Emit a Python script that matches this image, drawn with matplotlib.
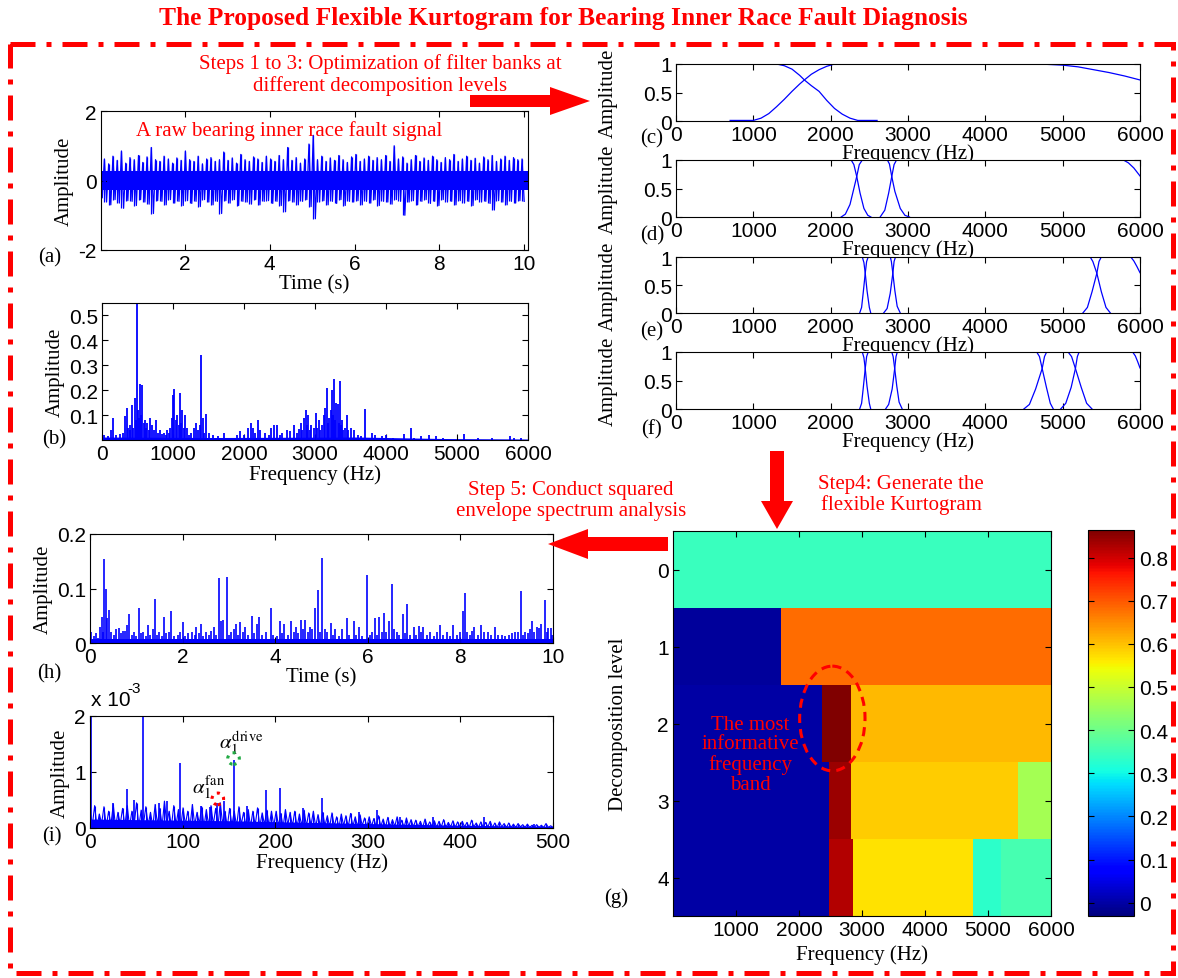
import numpy as np
import matplotlib
matplotlib.use("Agg")
import matplotlib.pyplot as plt
from matplotlib.patches import FancyArrow, Ellipse, Rectangle
from matplotlib.ticker import FuncFormatter

SERIF = "Liberation Serif"
SANS = "Liberation Sans"
RED = "#ff0000"
BLUE = "#0000ff"

plt.rcParams["font.family"] = [SANS, "DejaVu Sans"]
plt.rcParams["mathtext.fontset"] = "stix"
plt.rcParams["axes.unicode_minus"] = False

# ---------------- data ----------------
# (a) raw signal: upper / lower swing in each 0.1 s slot, plus the solid core band
sig_a_top = [0.55, 0.62, 0.48, 0.70, 0.58, 0.85, 0.50, 0.66, 0.60, 0.72,
             0.52, 0.68, 0.95, 0.60, 0.55, 0.70, 0.62, 0.50, 0.65, 0.58,
             0.85, 0.60, 0.55, 0.70, 0.48, 0.62, 0.66, 0.55, 0.60, 0.82,
             0.58, 0.65, 0.50, 0.75, 0.60, 0.55, 0.68, 0.62, 0.52, 0.70,
             0.62, 0.55, 0.72, 0.60, 0.95, 0.58, 0.66, 0.50, 0.62, 1.05,
             1.30, 0.60, 0.70, 0.55, 0.65, 0.58, 0.72, 0.60, 0.52, 0.68,
             0.75, 0.55, 0.62, 0.70, 0.58, 0.66, 0.60, 0.72, 0.55, 1.00,
             0.62, 0.68, 0.50, 0.60, 0.72, 0.55, 0.65, 0.58, 0.70, 0.60,
             0.52, 0.66, 0.60, 0.75, 0.55, 0.62, 0.70, 0.58, 0.64, 0.50,
             0.68, 0.60, 0.72, 0.55, 0.62, 0.70, 0.58, 0.66, 0.60, 0.62]
sig_a_bot = [-0.50, -0.62, -0.70, -0.55, -0.65, -0.80, -0.58, -0.60, -0.72, -0.55,
             -0.62, -0.68, -0.95, -0.58, -0.60, -0.70, -0.55, -0.65, -0.60, -0.72,
             -0.58, -0.66, -0.60, -0.75, -0.55, -0.62, -0.70, -0.60, -0.95, -0.58,
             -0.65, -0.55, -0.72, -0.60, -0.62, -0.68, -0.55, -0.70, -0.60, -0.58,
             -0.66, -0.60, -0.72, -0.90, -0.58, -0.62, -0.70, -0.60, -0.55, -0.75,
             -1.10, -0.62, -0.58, -0.70, -0.60, -0.66, -0.55, -0.72, -0.60, -0.62,
             -0.58, -0.70, -0.60, -0.65, -0.55, -0.72, -0.60, -0.62, -0.68, -0.55,
             -0.60, -1.00, -0.62, -0.58, -0.70, -0.60, -0.55, -0.66, -0.60, -0.72,
             -0.55, -0.62, -0.60, -0.70, -0.58, -0.65, -0.60, -0.72, -0.55, -0.62,
             -0.60, -0.66, -0.85, -0.58, -0.62, -0.70, -0.60, -0.65, -0.58, -0.60]
sig_a_core_t = [0, 10.1]
sig_a_core_hi = [0.28, 0.28]
sig_a_core_lo = [-0.26, -0.26]

# (b) spectrum peaks (Hz, amplitude) and noise floor
spec_b = [(30, 0.02), (80, 0.015), (120, 0.04), (150, 0.09), (200, 0.02), (250, 0.025),
          (300, 0.03), (330, 0.095), (350, 0.13), (370, 0.05), (390, 0.04), (400, 0.06),
          (420, 0.14), (440, 0.05), (460, 0.17), (475, 0.08), (490, 0.55), (510, 0.12),
          (525, 0.09), (540, 0.225), (555, 0.1), (570, 0.22), (585, 0.07), (600, 0.08),
          (620, 0.05), (640, 0.07), (660, 0.04), (680, 0.09), (700, 0.06), (730, 0.04),
          (760, 0.08), (790, 0.03), (820, 0.04), (850, 0.025), (870, 0.03), (900, 0.02),
          (920, 0.04), (940, 0.03), (960, 0.05), (980, 0.09), (1000, 0.18), (1020, 0.205),
          (1040, 0.08), (1060, 0.1), (1080, 0.06), (1100, 0.19), (1115, 0.07), (1130, 0.12),
          (1150, 0.05), (1170, 0.1), (1200, 0.05), (1230, 0.02), (1260, 0.03), (1300, 0.05),
          (1330, 0.07), (1350, 0.04), (1380, 0.06), (1400, 0.34), (1420, 0.09), (1440, 0.03),
          (1460, 0.105), (1500, 0.03), (1560, 0.02), (1630, 0.015), (1720, 0.03), (1800, 0.01),
          (1900, 0.02), (1950, 0.035), (2000, 0.02), (2050, 0.05), (2100, 0.07), (2130, 0.05),
          (2160, 0.03), (2200, 0.08), (2230, 0.04), (2300, 0.03), (2350, 0.02), (2380, 0.05),
          (2420, 0.06), (2460, 0.06), (2500, 0.02), (2530, 0.03), (2600, 0.04), (2650, 0.035),
          (2700, 0.06), (2740, 0.03), (2780, 0.045), (2800, 0.07), (2820, 0.04), (2840, 0.09),
          (2870, 0.12), (2885, 0.06), (2900, 0.1), (2930, 0.04), (2950, 0.06), (2980, 0.05),
          (3010, 0.11), (3030, 0.05), (3050, 0.08), (3075, 0.04), (3100, 0.06), (3120, 0.1),
          (3140, 0.13), (3170, 0.21), (3185, 0.07), (3200, 0.09), (3220, 0.12), (3240, 0.2),
          (3255, 0.1), (3270, 0.245), (3285, 0.08), (3300, 0.15), (3320, 0.145), (3335, 0.07),
          (3350, 0.235), (3365, 0.06), (3380, 0.08), (3400, 0.04), (3420, 0.05), (3450, 0.1),
          (3470, 0.04), (3500, 0.05), (3550, 0.04), (3600, 0.02), (3650, 0.015), (3700, 0.125),
          (3750, 0.01), (3800, 0.03), (3850, 0.02), (3950, 0.015), (4000, 0.02), (4100, 0.01),
          (4250, 0.025), (4350, 0.05), (4400, 0.01), (4500, 0.015), (4600, 0.02), (4700, 0.015),
          (4800, 0.01), (5100, 0.025), (5300, 0.008), (5500, 0.008), (5750, 0.015), (5800, 0.008),
          (5900, 0.01)]
spec_b_floor_f = [0, 1600, 3600, 4800, 6000]
spec_b_floor_a = [0.012, 0.01, 0.012, 0.006, 0.004]

# (c)-(f) optimised filter banks: (frequency list, gain list) per filter
bank_c = [([0, 1300, 1400, 1500, 1600, 1660, 1750, 1850, 1950, 2050, 2150, 2250, 2350, 2600],
           [1, 1, 0.97, 0.91, 0.8, 0.72, 0.62, 0.52, 0.36, 0.22, 0.12, 0.05, 0.01, 0.01]),
          ([700, 1000, 1100, 1200, 1300, 1400, 1500, 1600, 1660, 1750, 1850, 1950, 2050,
            4700, 5000, 5200, 5400, 5600, 5800, 6000],
           [0.01, 0.01, 0.05, 0.13, 0.25, 0.38, 0.52, 0.65, 0.72, 0.82, 0.9, 0.96, 1,
            1, 0.98, 0.95, 0.9, 0.85, 0.79, 0.72])]
bank_d = [([0, 2265, 2300, 2337, 2380, 2430, 2480, 2520],
           [1, 1, 0.92, 0.71, 0.42, 0.15, 0.03, 0]),
          ([2136, 2190, 2250, 2300, 2337, 2370, 2409, 2733, 2760, 2790, 2830, 2900, 2960, 3019],
           [0, 0.05, 0.22, 0.5, 0.71, 0.92, 1, 1, 0.93, 0.71, 0.45, 0.15, 0.03, 0]),
          ([2640, 2700, 2750, 2790, 2820, 2852, 5785, 5850, 5920, 6000],
           [0, 0.12, 0.42, 0.71, 0.92, 1, 1, 0.95, 0.86, 0.72])]
bank_e = [([0, 2409, 2430, 2447, 2470, 2500, 2518],
           [1, 1, 0.9, 0.71, 0.4, 0.1, 0]),
          ([2375, 2400, 2420, 2447, 2465, 2485, 2771, 2785, 2804, 2830, 2860, 2900],
           [0, 0.1, 0.35, 0.71, 0.92, 1, 1, 0.92, 0.71, 0.4, 0.12, 0]),
          ([2685, 2730, 2770, 2804, 2820, 2838, 5356, 5390, 5442, 5500, 5560, 5617],
           [0, 0.08, 0.35, 0.71, 0.92, 1, 1, 0.92, 0.71, 0.38, 0.1, 0]),
          ([5261, 5320, 5380, 5442, 5470, 5499, 5881, 5920, 5960, 6000],
           [0, 0.1, 0.38, 0.71, 0.92, 1, 1, 0.93, 0.83, 0.72])]
bank_f = [([0, 2409, 2430, 2447, 2470, 2500, 2518],
           [1, 1, 0.9, 0.71, 0.4, 0.1, 0]),
          ([2375, 2400, 2420, 2447, 2465, 2485, 2790, 2808, 2828, 2855, 2885, 2925],
           [0, 0.1, 0.35, 0.71, 0.92, 1, 1, 0.92, 0.71, 0.4, 0.12, 0]),
          ([2710, 2750, 2795, 2828, 2845, 2862, 4664, 4700, 4735, 4790, 4840, 4879],
           [0, 0.08, 0.35, 0.71, 0.92, 1, 1, 0.92, 0.71, 0.38, 0.1, 0]),
          ([4498, 4570, 4650, 4735, 4765, 4793, 5070, 5115, 5165, 5240, 5310, 5380],
           [0, 0.08, 0.35, 0.71, 0.92, 1, 1, 0.92, 0.71, 0.38, 0.1, 0]),
          ([4974, 5040, 5110, 5165, 5190, 5213, 5905, 5940, 5970, 6000],
           [0, 0.1, 0.38, 0.71, 0.92, 1, 1, 0.93, 0.83, 0.72])]

# (g) flexible kurtogram: band edges (Hz) and kurtosis value per level
kurt_levels = [0, 1, 2, 3, 4]
kurt_edges = [[0, 6000],
              [0, 1707, 6000],
              [0, 2360, 2826, 6000],
              [0, 2477, 2826, 5478, 6000],
              [0, 2477, 2855, 4767, 5204, 6000]]
kurt_vals = [[0.345],
             [-0.01, 0.68],
             [0.0, 0.864, 0.607],
             [0.0, 0.84, 0.59, 0.46],
             [0.0, 0.824, 0.57, 0.33, 0.36]]
kurt_clim = (-0.031, 0.864)
cbar_ticks = [0, 0.1, 0.2, 0.3, 0.4, 0.5, 0.6, 0.7, 0.8]

# (h) squared envelope (s, amplitude)
env_h = [(0.03, 0.02), (0.08, 0.012), (0.13, 0.018), (0.18, 0.01), (0.22, 0.03), (0.25, 0.048),
         (0.28, 0.02), (0.31, 0.155), (0.34, 0.1), (0.37, 0.045), (0.41, 0.06), (0.46, 0.02),
         (0.52, 0.015), (0.57, 0.025), (0.62, 0.027), (0.67, 0.018), (0.71, 0.022), (0.75, 0.022),
         (0.79, 0.033), (0.85, 0.053), (0.9, 0.015), (0.95, 0.02), (1.0, 0.012), (1.05, 0.064),
         (1.1, 0.018), (1.15, 0.02), (1.2, 0.012), (1.25, 0.033), (1.3, 0.015), (1.35, 0.025),
         (1.4, 0.08), (1.45, 0.015), (1.5, 0.02), (1.55, 0.012), (1.6, 0.047), (1.65, 0.018),
         (1.7, 0.02), (1.75, 0.058), (1.82, 0.012), (1.9, 0.015), (1.95, 0.02), (2.0, 0.039),
         (2.06, 0.012), (2.12, 0.018), (2.2, 0.02), (2.26, 0.015), (2.3, 0.03), (2.35, 0.018),
         (2.4, 0.035), (2.45, 0.012), (2.5, 0.02), (2.57, 0.015), (2.62, 0.022), (2.67, 0.03),
         (2.72, 0.015), (2.78, 0.12), (2.82, 0.04), (2.87, 0.042), (2.95, 0.122), (3.0, 0.015),
         (3.05, 0.02), (3.1, 0.025), (3.15, 0.035), (3.2, 0.015), (3.25, 0.038), (3.3, 0.02),
         (3.35, 0.03), (3.42, 0.015), (3.5, 0.05), (3.55, 0.018), (3.6, 0.035), (3.65, 0.047),
         (3.72, 0.015), (3.8, 0.02), (3.9, 0.065), (3.96, 0.015), (4.03, 0.012), (4.1, 0.04),
         (4.15, 0.018), (4.2, 0.035), (4.27, 0.015), (4.35, 0.04), (4.4, 0.02), (4.45, 0.03),
         (4.5, 0.018), (4.55, 0.042), (4.6, 0.025), (4.65, 0.042), (4.7, 0.02), (4.75, 0.03),
         (4.8, 0.025), (4.86, 0.064), (4.93, 0.098), (4.97, 0.02), (5.02, 0.156), (5.07, 0.025),
         (5.12, 0.02), (5.2, 0.037), (5.25, 0.015), (5.3, 0.025), (5.38, 0.012), (5.45, 0.025),
         (5.55, 0.045), (5.6, 0.015), (5.7, 0.04), (5.75, 0.015), (5.8, 0.03), (5.88, 0.012),
         (5.98, 0.125), (6.04, 0.015), (6.1, 0.02), (6.15, 0.045), (6.2, 0.015), (6.25, 0.047),
         (6.3, 0.02), (6.35, 0.055), (6.4, 0.02), (6.45, 0.04), (6.52, 0.108), (6.57, 0.025),
         (6.62, 0.02), (6.68, 0.015), (6.75, 0.053), (6.8, 0.018), (6.85, 0.072), (6.92, 0.015),
         (7.0, 0.03), (7.05, 0.015), (7.1, 0.032), (7.15, 0.02), (7.2, 0.03), (7.28, 0.015),
         (7.35, 0.02), (7.42, 0.012), (7.5, 0.02), (7.55, 0.033), (7.62, 0.015), (7.7, 0.02),
         (7.78, 0.012), (7.85, 0.033), (7.92, 0.015), (8.0, 0.02), (8.05, 0.058), (8.1, 0.092),
         (8.15, 0.02), (8.2, 0.015), (8.25, 0.022), (8.3, 0.03), (8.38, 0.015), (8.45, 0.033),
         (8.5, 0.02), (8.6, 0.02), (8.67, 0.015), (8.75, 0.03), (8.82, 0.015), (8.9, 0.015),
         (8.97, 0.012), (9.05, 0.015), (9.12, 0.018), (9.18, 0.02), (9.25, 0.02), (9.31, 0.095),
         (9.36, 0.015), (9.4, 0.02), (9.45, 0.018), (9.5, 0.025), (9.55, 0.04), (9.6, 0.02),
         (9.65, 0.03), (9.7, 0.027), (9.75, 0.035), (9.82, 0.078), (9.87, 0.02), (9.9, 0.027),
         (9.95, 0.027), (9.98, 0.015)]
env_h_floor_t = [0, 10]
env_h_floor_a = [0.008, 0.008]

# (i) squared envelope spectrum (x 1e-3): noise swing per 5 Hz slot, solid core, peaks
ses_i_top = [0.30, 0.40, 0.25, 0.38, 0.30, 0.42, 0.28, 0.35, 0.40, 0.30,
             0.45, 0.32, 0.38, 0.28, 0.42, 0.35, 0.48, 0.30, 0.40, 0.33,
             0.36, 0.30, 0.42, 0.28, 0.38, 0.33, 0.40, 0.35, 0.45, 0.30,
             0.35, 0.30, 0.38, 0.28, 0.33, 0.30, 0.36, 0.27, 0.32, 0.30,
             0.30, 0.26, 0.33, 0.28, 0.30, 0.25, 0.32, 0.27, 0.30, 0.24,
             0.28, 0.22, 0.27, 0.20, 0.25, 0.22, 0.26, 0.20, 0.24, 0.18,
             0.20, 0.17, 0.22, 0.16, 0.19, 0.15, 0.20, 0.14, 0.18, 0.15,
             0.14, 0.12, 0.16, 0.11, 0.13, 0.12, 0.15, 0.10, 0.13, 0.11,
             0.12, 0.10, 0.14, 0.09, 0.11, 0.10, 0.12, 0.09, 0.11, 0.08,
             0.09, 0.07, 0.08, 0.06, 0.07, 0.05, 0.06, 0.05, 0.08, 0.04]
ses_i_bot = [0.05, 0.02, 0.08, 0.03, 0.06, 0.01, 0.07, 0.04, 0.02, 0.06,
             0.03, 0.08, 0.05, 0.02, 0.06, 0.04, 0.07, 0.03, 0.05, 0.02,
             0.06, 0.03, 0.05, 0.08, 0.02, 0.04, 0.06, 0.03, 0.07, 0.02,
             0.05, 0.03, 0.06, 0.04, 0.02, 0.05, 0.03, 0.06, 0.02, 0.04,
             0.04, 0.02, 0.05, 0.03, 0.02, 0.04, 0.03, 0.05, 0.02, 0.03,
             0.04, 0.02, 0.03, 0.01, 0.04, 0.02, 0.03, 0.02, 0.04, 0.02,
             0.03, 0.02, 0.03, 0.01, 0.02, 0.03, 0.02, 0.01, 0.03, 0.02,
             0.02, 0.01, 0.02, 0.03, 0.01, 0.02, 0.01, 0.02, 0.01, 0.02,
             0.02, 0.01, 0.02, 0.01, 0.01, 0.02, 0.01, 0.01, 0.02, 0.01,
             0.01, 0.01, 0.02, 0.01, 0.01, 0.01, 0.01, 0.01, 0.01, 0.01]
ses_i_core_f = [0, 150, 300, 400, 500]
ses_i_core_a = [0.16, 0.13, 0.08, 0.05, 0.03]
ses_i_peaks = [(1, 2.0), (25, 0.45), (40, 0.69), (48, 0.5), (57, 2.1), (75, 0.45), (83, 0.48),
               (97, 1.16), (120, 0.4), (130, 0.38), (137, 0.45), (145, 0.48), (155, 1.22),
               (170, 0.4), (190, 0.67), (205, 0.72), (230, 0.35), (250, 0.53), (290, 0.28),
               (310, 0.32), (335, 0.2), (370, 0.2), (425, 0.2), (480, 0.08)]
fan_mark = (138, 0.52)
drive_mark = (155, 1.24)

# ---------------- figure ----------------
W, H = 1178, 979
fig = plt.figure(figsize=(W / 100, H / 100), dpi=100)
fig.patch.set_facecolor("white")
fmt_g = FuncFormatter(lambda v, p: f"{v:g}")


def box(left, top, right, bottom):
    return [left / W, 1 - bottom / H, (right - left) / W, (bottom - top) / H]


def matlab_style(ax):
    ax.tick_params(direction="in", top=True, right=True, length=4, width=0.8,
                   labelsize=15, pad=3)
    for sp in ax.spines.values():
        sp.set_linewidth(0.8)
    ax.yaxis.set_major_formatter(fmt_g)
    ax.xaxis.set_major_formatter(fmt_g)


def labels(ax, xlabel, ylabel, xpad=1, ypad=3):
    ax.set_xlabel(xlabel, family=SERIF, fontsize=15, labelpad=xpad)
    ax.set_ylabel(ylabel, family=SERIF, fontsize=15, labelpad=ypad)


def zigzag(top, bot):
    return np.column_stack([top, bot]).ravel()


# (a) raw signal
ax_a = fig.add_axes(box(101, 112, 528, 251))
t_a = np.linspace(0, 10, 2 * len(sig_a_top))
ax_a.fill_between(sig_a_core_t, sig_a_core_lo, sig_a_core_hi, color=BLUE, lw=0)
ax_a.plot(t_a, zigzag(sig_a_top, sig_a_bot), color=BLUE, lw=0.9)
ax_a.vlines(t_a[::2], sig_a_bot, sig_a_top, color=BLUE, lw=0.9)
ax_a.set_xlim(0.02, 10.09)
ax_a.set_ylim(-2, 2)
ax_a.set_xticks([2, 4, 6, 8, 10])
ax_a.set_yticks([-2, 0, 2])
matlab_style(ax_a)
labels(ax_a, "Time (s)", "Amplitude")
ax_a.text(0.082, 0.865, "A raw bearing inner race fault signal", transform=ax_a.transAxes,
          color=RED, family=SERIF, fontsize=15, va="center")

# (b) spectrum
ax_b = fig.add_axes(box(102, 304, 528, 441))
f_b, a_b = zip(*spec_b)
ax_b.fill_between(spec_b_floor_f, 0, spec_b_floor_a, color=BLUE, lw=0)
ax_b.vlines(f_b, 0, a_b, color=BLUE, lw=1.3)
ax_b.set_xlim(0, 6000)
ax_b.set_ylim(0, 0.55)
ax_b.set_xticks(range(0, 6001, 1000))
ax_b.set_yticks([0.1, 0.2, 0.3, 0.4, 0.5])
matlab_style(ax_b)
labels(ax_b, "Frequency (Hz)", "Amplitude")

# (c)-(f) filter banks
for curves, top, bottom in [(bank_c, 65, 122), (bank_d, 161, 218),
                            (bank_e, 258, 314), (bank_f, 353, 410)]:
    ax = fig.add_axes(box(676, top, 1140, bottom))
    for fr, gain in curves:
        ax.plot(fr, gain, color=BLUE, lw=0.9)
    ax.set_xlim(0, 6000)
    ax.set_ylim(0, 1)
    ax.set_xticks(range(0, 6001, 1000))
    ax.set_yticks([0, 0.5, 1])
    matlab_style(ax)
    labels(ax, "Frequency (Hz)", "Amplitude", xpad=-1)
    ax.yaxis.set_label_coords(-0.125, 0.5)

# (g) kurtogram
ax_g = fig.add_axes(box(673, 532, 1051, 917))
for lvl, edges, vals in zip(kurt_levels, kurt_edges, kurt_vals):
    mesh = ax_g.pcolormesh(edges, [lvl - 0.5, lvl + 0.5], [vals], cmap="jet",
                           vmin=kurt_clim[0], vmax=kurt_clim[1])
ax_g.set_xlim(0, 6000)
ax_g.set_ylim(4.5, -0.5)
ax_g.set_xticks(range(1000, 6001, 1000))
ax_g.set_yticks(kurt_levels)
matlab_style(ax_g)
labels(ax_g, "Frequency (Hz)", "Decomposition level", xpad=4, ypad=21)
ax_g.add_patch(Ellipse((2529, 1.935), 1038, 1.36, fill=False, ec=RED, lw=2.2,
                       ls=(0, (3, 2)), zorder=5))
ax_g.text(1224, 2.40, "The most\ninformative\nfrequency\nband", color=RED, family=SERIF,
          fontsize=15, ha="center", va="center", linespacing=1.05, zorder=6)

cax = fig.add_axes(box(1088, 531, 1134, 917))
cb = fig.colorbar(mesh, cax=cax, ticks=cbar_ticks)
cax.tick_params(direction="in", left=True, right=True, length=4, width=0.8, labelsize=15)
cax.yaxis.set_major_formatter(fmt_g)
cb.outline.set_linewidth(0.8)

# (h) squared envelope
ax_h = fig.add_axes(box(90, 535, 553, 644))
t_h, a_h = zip(*env_h)
ax_h.fill_between(env_h_floor_t, 0, env_h_floor_a, color=BLUE, lw=0)
ax_h.vlines(t_h, 0, a_h, color=BLUE, lw=1.2)
ax_h.set_xlim(0, 10)
ax_h.set_ylim(0, 0.2)
ax_h.set_xticks(range(0, 11, 2))
ax_h.set_yticks([0, 0.1, 0.2])
matlab_style(ax_h)
labels(ax_h, "Time (s)", "Amplitude")

# (i) squared envelope spectrum
ax_i = fig.add_axes(box(90, 717, 553, 829))
f_i = np.linspace(0, 500, 2 * len(ses_i_top))
ax_i.fill_between(ses_i_core_f, 0, ses_i_core_a, color=BLUE, lw=0)
ax_i.plot(f_i, zigzag(ses_i_top, ses_i_bot), color=BLUE, lw=0.8)
ax_i.vlines(f_i[::2], ses_i_bot, ses_i_top, color=BLUE, lw=0.8)
f_pk, a_pk = zip(*ses_i_peaks)
ax_i.vlines(f_pk, 0, a_pk, color=BLUE, lw=1.2)
ax_i.set_xlim(0, 500)
ax_i.set_ylim(0, 2)
ax_i.set_xticks(range(0, 501, 100))
ax_i.set_yticks([0, 1, 2])
matlab_style(ax_i)
labels(ax_i, "Frequency (Hz)", "Amplitude")
ax_i.scatter(*fan_mark, s=70, facecolors="none", edgecolors=RED, linewidths=2.2,
             linestyles=":", zorder=5, clip_on=False)
ax_i.scatter(*drive_mark, s=70, facecolors="none", edgecolors="#22aa44", linewidths=2.2,
             linestyles=":", zorder=5, clip_on=False)
ax_i.text(fan_mark[0] - 10, fan_mark[1] + 0.22, r"$\alpha_1^{\mathrm{fan}}$",
          fontsize=15, ha="center", va="center")
ax_i.text(drive_mark[0] + 8, drive_mark[1] + 0.29, r"$\alpha_1^{\mathrm{drive}}$",
          fontsize=15, ha="center", va="center")

# ---------------- overlay: frame, title, arrows, notes ----------------
ov = fig.add_axes([0, 0, 1, 1], zorder=10)
ov.set_xlim(0, W)
ov.set_ylim(H, 0)
ov.axis("off")

ov.add_patch(Rectangle((10, 45), 1163, 929, fill=False, ec=RED, lw=3.6,
                       ls=(0, (5, 2.2, 1, 2.2))))
ov.text(563, 18, "The Proposed Flexible Kurtogram for Bearing Inner Race Fault Diagnosis",
        color=RED, family=SERIF, fontweight="bold", fontsize=18.4, ha="center", va="center")

ov.add_patch(FancyArrow(470, 102, 120, 0, width=12, head_width=28, head_length=40,
                        length_includes_head=True, color=RED, lw=0))
ov.add_patch(FancyArrow(777, 452, 0, 78, width=14, head_width=32, head_length=28,
                        length_includes_head=True, color=RED, lw=0))
ov.add_patch(FancyArrow(668, 545, -120, 0, width=14, head_width=30, head_length=40,
                        length_includes_head=True, color=RED, lw=0))

ov.text(380, 75, "Steps 1 to 3: Optimization of filter banks at\ndifferent decomposition levels",
        color=RED, family=SERIF, fontsize=15, ha="center", va="center", linespacing=1.1)
ov.text(901, 495, "Step4: Generate the\nflexible Kurtogram",
        color=RED, family=SERIF, fontsize=15, ha="center", va="center", linespacing=1.1)
ov.text(571, 501, "Step 5: Conduct squared\nenvelope spectrum analysis",
        color=RED, family=SERIF, fontsize=15, ha="center", va="center", linespacing=1.1)

for lab, x, y in [("(a)", 50, 258), ("(b)", 54, 440), ("(c)", 652, 139), ("(d)", 652, 236),
                  ("(e)", 652, 332), ("(f)", 652, 430), ("(g)", 616, 898),
                  ("(h)", 49, 674), ("(i)", 52, 837)]:
    ov.text(x, y, lab, family=SERIF, fontsize=15, ha="center", va="center")

ov.text(91, 701, "x 10", fontsize=15, ha="left", va="center")
ov.text(127, 689, "-3", fontsize=11, ha="left", va="center")

fig.savefig("out.png", dpi=100)
